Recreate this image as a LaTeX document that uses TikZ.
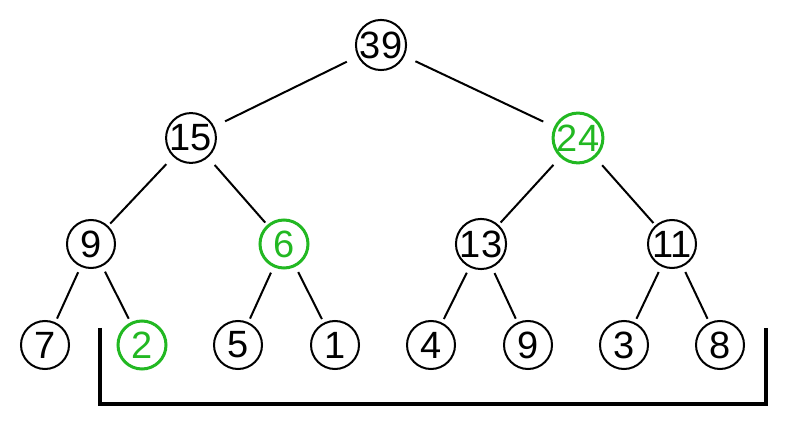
\documentclass[tikz,border=0pt]{standalone}
\usepackage{fontspec}
\setmainfont{Liberation Sans}
\usepackage{xcolor}
\usetikzlibrary{positioning}

\definecolor{hlgreen}{RGB}{34,184,34}

\begin{document}
\begin{tikzpicture}[x=0.5pt, y=-0.5pt,
    val/.style={circle, draw, line width=1pt, minimum size=24pt, inner sep=0pt,
                font=\fontsize{19}{20}\selectfont},
    marked/.style={val, draw=hlgreen, text=hlgreen, line width=1.5pt},
    link/.style={line width=1pt},
    top/.style={link, shorten <=6pt, shorten >=6pt},
    mid/.style={link, shorten <=5pt, shorten >=1.5pt},
    low/.style={link, shorten <=3pt, shorten >=2pt}]

    \useasboundingbox (0,0) rectangle (786,432);

    % levels of the tree
    \node[val] (r) at (381,45) {39};

    \node[val] (a) at (191,138) {15};
    \node[marked] (b) at (578,138) {24};

    \node[val] (aa) at (91,244) {9};
    \node[marked] (ab) at (284,244) {6};
    \node[val] (ba) at (481,244) {13};
    \node[val] (bb) at (672,244) {11};

    \node[val] (l1) at (45,345) {7};
    \node[marked] (l2) at (142,345) {2};
    \node[val] (l3) at (238,345) {5};
    \node[val] (l4) at (335,345) {1};
    \node[val] (l5) at (431,345) {4};
    \node[val] (l6) at (528,345) {9};
    \node[val] (l7) at (624,345) {3};
    \node[val] (l8) at (720,345) {8};

    \draw[top] (r) -- (a);
    \draw[top] (r) -- (b);
    \draw[mid] (a) -- (aa);
    \draw[mid] (a) -- (ab);
    \draw[mid] (b) -- (ba);
    \draw[mid] (b) -- (bb);
    \draw[low] (aa) -- (l1);
    \draw[low] (aa) -- (l2);
    \draw[low] (ab) -- (l3);
    \draw[low] (ab) -- (l4);
    \draw[low] (ba) -- (l5);
    \draw[low] (ba) -- (l6);
    \draw[low] (bb) -- (l7);
    \draw[low] (bb) -- (l8);

    % bracket under the leaves
    \draw[line width=2pt] (100,328) -- (100,404) -- (766,404) -- (766,328);

\end{tikzpicture}
\end{document}
